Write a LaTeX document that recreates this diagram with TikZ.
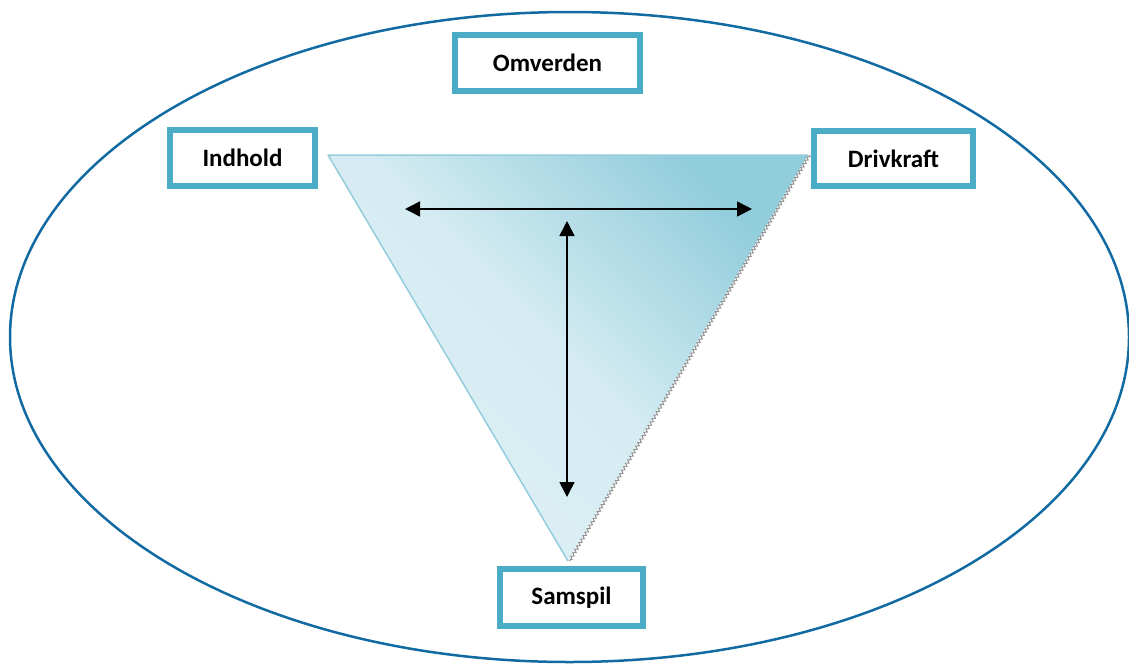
\documentclass[tikz,border=0pt]{standalone}
\usepackage{fontspec}
\setmainfont{Carlito}
\usetikzlibrary{arrows.meta,decorations.pathmorphing}
\definecolor{ringblue}{RGB}{18,106,162}
\definecolor{boxblue}{RGB}{75,172,198}
\definecolor{triLight}{RGB}{222,240,245}
\definecolor{triDark}{RGB}{146,205,220}
\definecolor{triEdge}{RGB}{147,205,221}
\tikzset{
  labelbox/.style={draw=boxblue, line width=6pt, fill=white, inner sep=0pt,
    font=\fontsize{25}{30}\selectfont\bfseries, text=black},
  dblarrow/.style={line width=1.6pt, {Triangle[length=15pt,width=15pt]}-{Triangle[length=15pt,width=15pt]}},
}
\begin{document}
\begin{tikzpicture}[x=1pt,y=-1pt]
  \useasboundingbox (0,0) rectangle (1129,664);
  % outer ring
  \draw[ringblue, line width=2.5pt] (569.5,337) ellipse [x radius=559.5, y radius=325];

  % inverted triangle with its corners
  \coordinate (tl) at (328,155);
  \coordinate (tr) at (808,155);
  \coordinate (bt) at (568,561);
  \shade[top color=triDark, bottom color=triLight, middle color=triLight!88!triDark, shading angle=-45]
    (tl) -- (tr) -- (bt) -- cycle;
  \draw[triEdge, line width=1.5pt, line join=round] (bt) -- (tl) -- (tr);
  \draw[gray!85, line width=1pt, decorate, decoration={zigzag, amplitude=1.4pt, segment length=4pt}]
    ([xshift=1.5pt]tr) -- ([xshift=1.5pt]bt);

  % arrows inside the triangle
  \coordinate (hl) at (405,209);
  \coordinate (hr) at (752,209);
  \coordinate (vt) at (567,221);
  \coordinate (vb) at (567,497);
  \draw[dblarrow] (hl) -- (hr);
  \draw[dblarrow] (vt) -- (vb);

  % labels
  \node[labelbox, minimum width=185pt, minimum height=56pt] (omverden) at (547.5,63) {Omverden};
  \node[labelbox, minimum width=145pt, minimum height=56pt] (indhold) at (242.5,158) {Indhold};
  \node[labelbox, minimum width=159pt, minimum height=55pt] (drivkraft) at (893.5,158.5) {Drivkraft};
  \node[labelbox, minimum width=143pt, minimum height=57pt] (samspil) at (571.5,597.5) {Samspil};
\end{tikzpicture}
\end{document}
